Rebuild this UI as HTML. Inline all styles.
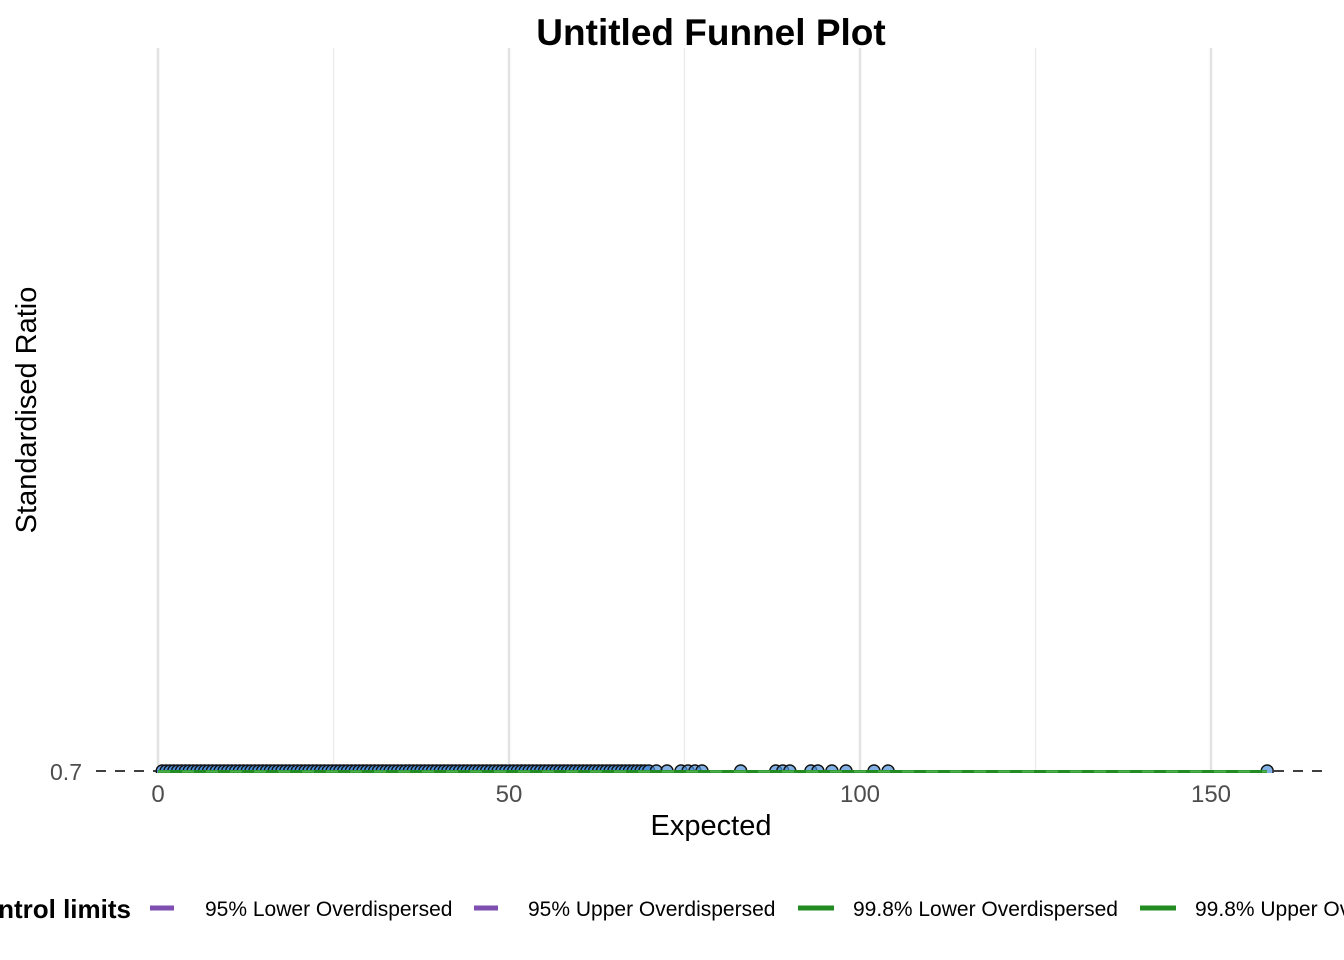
<!DOCTYPE html>
<html><head><meta charset="utf-8"><style>
html,body{margin:0;padding:0;background:#fff;}
svg{display:block;font-family:"Liberation Sans",Arial,sans-serif;}
</style></head><body>
<svg width="1344" height="960" viewBox="0 0 1344 960">
<defs><clipPath id="c"><rect x="95" y="40" width="1240" height="733"/></clipPath></defs>
<g stroke="#e3e3e3" stroke-width="2.5">
<line x1="158" y1="48" x2="158" y2="771"/><line x1="509" y1="48" x2="509" y2="771"/>
<line x1="860" y1="48" x2="860" y2="771"/><line x1="1211" y1="48" x2="1211" y2="771"/>
</g>
<g stroke="#ebebeb" stroke-width="1.3">
<line x1="333.5" y1="48" x2="333.5" y2="771"/><line x1="684.5" y1="48" x2="684.5" y2="771"/><line x1="1035.5" y1="48" x2="1035.5" y2="771"/>
</g>
<line x1="96" y1="771" x2="1330" y2="771" stroke="#000" stroke-width="1.5" stroke-dasharray="10,9"/>
<g id="pts" clip-path="url(#c)"></g>
<line x1="158" y1="771.5" x2="1267" y2="771.5" stroke="#228b22" stroke-width="3"/>
<line x1="158" y1="771.5" x2="1267" y2="771.5" stroke="#4cb04c" stroke-width="2" stroke-dasharray="12,12"/>
<text x="711" y="45" font-size="37" font-weight="bold" text-anchor="middle">Untitled Funnel Plot</text>
<text x="82" y="780" font-size="23" fill="#4d4d4d" text-anchor="end">0.7</text>
<g font-size="24" fill="#4d4d4d" text-anchor="middle">
<text x="158" y="802">0</text><text x="509" y="802">50</text><text x="860" y="802">100</text><text x="1211" y="802">150</text></g>
<text x="711" y="835" font-size="29" text-anchor="middle">Expected</text>
<text transform="translate(36,410) rotate(-90)" font-size="29" text-anchor="middle">Standardised Ratio</text>
<text x="131" y="918" font-size="26" font-weight="bold" text-anchor="end">Control limits</text>
<g stroke-width="5"><line x1="150" y1="908" x2="174" y2="908" stroke="#7e4fb0"/>
<line x1="474" y1="908" x2="498" y2="908" stroke="#7e4fb0"/>
<line x1="798" y1="908" x2="834" y2="908" stroke="#228b22"/>
<line x1="1140" y1="908" x2="1176" y2="908" stroke="#228b22"/></g>
<g font-size="21"><text x="205" y="916">95% Lower Overdispersed</text><text x="528" y="916">95% Upper Overdispersed</text>
<text x="853" y="916">99.8% Lower Overdispersed</text><text x="1195" y="916">99.8% Upper Overdispersed</text></g>
</svg>
<script>
var xs=[];
for(var v=0.6;v<70;v+=0.55)xs.push(v);
xs=xs.concat([71,72.5,74.5,75.5,76.5,77.5,83,88,89,90,93,94,96,98,102,104,158]);
var g=document.getElementById('pts'),s='';
xs.forEach(function(v,i){var x=158+v*7.02;
s+='<circle cx="'+x.toFixed(1)+'" cy="771" r="6" fill="#4a8fd9" fill-opacity="'+(v>70?0.7:0.85)+'" stroke="#111" stroke-width="1.4"/>';});
g.innerHTML=s;
</script>
</body></html>
